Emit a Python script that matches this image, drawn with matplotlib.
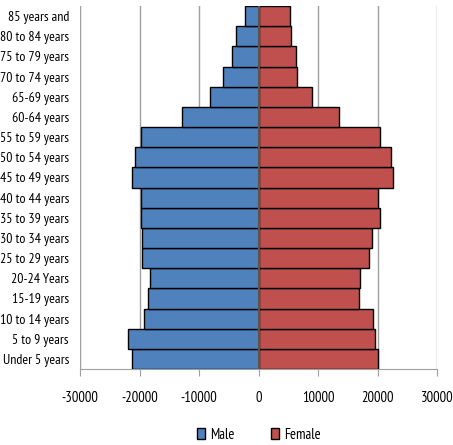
import matplotlib.pyplot as plt
import numpy as np

plt.rcParams['font.family'] = ['PT Sans Narrow', 'DejaVu Sans']

ages = ['Under 5 years', '5 to 9 years', '10 to 14 years', '15-19 years', '20-24 Years',
        '25 to 29 years', '30 to 34 years', '35 to 39 years', '40 to 44 years',
        '45 to 49 years', '50 to 54 years', '55 to 59 years', '60-64 years',
        '65-69 years', '70 to 74 years', '75 to 79 years', '80 to 84 years', '85 years and']
male = [-21200, -22000, -19200, -18500, -18200, -19500, -19500, -19700, -19700,
        -21300, -20700, -19700, -12800, -8200, -5900, -4400, -3700, -2350]
female = [20030, 19580, 19250, 16840, 17060, 18630, 19080, 20370, 20090,
          22610, 22220, 20370, 13520, 8980, 6450, 6290, 5450, 5330]
ticks = [-30000, -20000, -10000, 0, 10000, 20000, 30000]

fig = plt.figure(figsize=(4.53, 4.45), dpi=100)
ax = fig.add_axes([80/453, 1 - 369/445, 357/453, 363/445])

y = np.arange(len(ages))
ax.barh(y, male, height=1.0, color='#4F81BD', edgecolor='black', linewidth=1, label='Male', zorder=3)
ax.barh(y, female, height=1.0, color='#C0504D', edgecolor='black', linewidth=1, label='Female', zorder=3)

ax.set_xlim(-30000, 30000)
ax.set_ylim(-0.5, len(ages) - 0.5)
ax.set_xticks(ticks)
ax.set_xticklabels([str(t) for t in ticks], fontsize=10.5)
ax.set_yticks(y)
ax.set_yticklabels(ages, fontsize=10)
ax.tick_params(axis='y', length=0, pad=8)
ax.tick_params(axis='x', length=5, color='#a0a0a0', pad=11)

ax.grid(axis='x', color='#a0a0a0', linewidth=1, zorder=0)
ax.axvline(0, color='#555555', linewidth=1.5, zorder=4)
for s in ['top', 'right', 'left']:
    ax.spines[s].set_visible(False)
ax.spines['bottom'].set_color('#a0a0a0')

ax.legend(loc='upper center', bbox_to_anchor=(0.5, -0.125), ncol=2, frameon=False,
          fontsize=10.5, handlelength=0.6, handleheight=0.7, columnspacing=2.5, handletextpad=0.3)

fig.savefig('out.png', dpi=100)
